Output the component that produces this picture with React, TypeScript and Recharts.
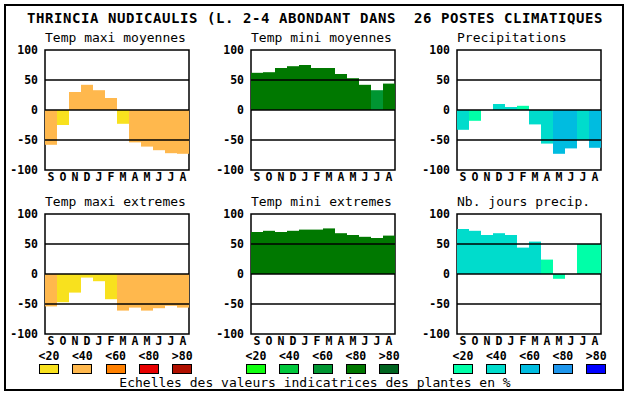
import React from 'react'
import { BarChart, Bar, Cell, XAxis, YAxis, ReferenceLine, ReferenceArea } from 'recharts'

const months = ['S', 'O', 'N', 'D', 'J', 'F', 'M', 'A', 'M', 'J', 'J', 'A']
const yTicks = [-100, -50, 0, 50, 100]
const classLabels = ['<20', '<40', '<60', '<80', '>80']

const warm = ['#F8E11E', '#FFB84D', '#FF8000', '#E80000', '#B01000']
const green = ['#10FF10', '#00C83C', '#009632', '#007800', '#006420']
const aqua = ['#00FFA8', '#00DCCC', '#00BCE0', '#1E96EC', '#0000FF']

const tmaxMoy = [-58, -25, 30, 42, 33, 20, -23, -54, -61, -67, -72, -73]
const tmaxMoyCls = [1, 0, 1, 1, 1, 1, 0, 1, 1, 1, 1, 1]
const tminMoy = [62, 63, 70, 73, 75, 70, 70, 60, 53, 42, 33, 44]
const tminMoyCls = [3, 3, 3, 3, 3, 3, 3, 3, 3, 3, 2, 3]
const precip = [-33, -18, 0, 10, 5, 7, -24, -56, -73, -64, -50, -63]
const precipCls = [1, 0, 1, 1, 1, 0, 1, 1, 2, 2, 1, 2]
const tmaxExt = [-54, -47, -31, -6, -12, -42, -61, -56, -61, -57, -53, -56]
const tmaxExtCls = [1, 0, 0, 0, 0, 0, 1, 1, 1, 1, 1, 1]
const tminExt = [70, 72, 70, 72, 74, 74, 76, 68, 65, 62, 60, 64]
const tminExtCls = [3, 3, 3, 3, 3, 3, 3, 3, 3, 3, 3, 3]
const joursPrecip = [75, 72, 65, 68, 65, 44, 54, 24, -8, 0, 50, 50]
const joursPrecipCls = [1, 1, 1, 1, 1, 1, 1, 0, 0, 0, 0, 0]

const panels = [
  { title: 'Temp maxi moyennes', values: tmaxMoy, cls: tmaxMoyCls, palette: warm },
  { title: 'Temp mini moyennes', values: tminMoy, cls: tminMoyCls, palette: green },
  { title: 'Precipitations', values: precip, cls: precipCls, palette: aqua },
  { title: 'Temp maxi extremes', values: tmaxExt, cls: tmaxExtCls, palette: warm },
  { title: 'Temp mini extremes', values: tminExt, cls: tminExtCls, palette: green },
  { title: 'Nb. jours precip.', values: joursPrecip, cls: joursPrecipCls, palette: aqua },
]

const mono = "'DejaVu Sans Mono', monospace"
const tickStyle = { fontSize: 11.5, fontWeight: 'bold', fill: '#000', fontFamily: mono }

const Panel = ({ p, left, top }) => {
  const data = p.values.map((v, i) => ({ k: i, v }))
  return (
    <div style={{ position: 'absolute', left: left - 40, top: top - 26 }}>
      <div style={{ position: 'absolute', left: 40, top: 6, fontFamily: mono, fontSize: 13, lineHeight: '16px', whiteSpace: 'pre' }}>{p.title}</div>
      <div style={{ position: 'absolute', left: 0, top: 18 }}>
        <BarChart width={186} height={148} data={data} barCategoryGap={0} barGap={0}
          margin={{ top: 8, right: 2, left: 0, bottom: 0 }}>
          <XAxis dataKey='k' interval={0} tickFormatter={(i) => months[i]} axisLine={false} tickLine={false}
            tickSize={0} tickMargin={3} height={20} tick={tickStyle} />
          <YAxis domain={[-100, 100]} ticks={yTicks} axisLine={false} tickLine={false} tickSize={0}
            tickMargin={7} width={40} tick={tickStyle} />
          <Bar dataKey='v' isAnimationActive={false}>
            {data.map((d, i) => <Cell key={i} fill={p.palette[p.cls[i]]} />)}
          </Bar>
          <ReferenceLine y={50} stroke='#000' strokeWidth={1.5} />
          <ReferenceLine y={0} stroke='#000' strokeWidth={1.5} />
          <ReferenceLine y={-50} stroke='#000' strokeWidth={1.5} />
          <ReferenceArea y1={-100} y2={100} fill='none' fillOpacity={0} stroke='#000' strokeWidth={1.5} />
        </BarChart>
      </div>
    </div>
  )
}

const plotLefts = [45, 251, 457]
const plotTops = [50, 214]
const palettes = [warm, green, aqua]

export default function App() {
  return (
    <div style={{ position: 'absolute', left: 0, top: 0, width: 630, height: 394, background: '#fff', overflow: 'hidden' }}>
      <div style={{ position: 'absolute', left: 4, top: 4, width: 620, height: 387, border: '2px solid #000', boxSizing: 'border-box' }} />
      <div style={{ position: 'absolute', left: 27, top: 9, fontFamily: mono, fontWeight: 'bold', fontSize: 14, letterSpacing: 0.57, lineHeight: '18px', whiteSpace: 'pre' }}>
        THRINCIA NUDICAULIS (L. 2-4 ABONDANT DANS  26 POSTES CLIMATIQUES
      </div>
      {panels.map((p, i) => (
        <Panel key={i} p={p} left={plotLefts[i % 3]} top={plotTops[Math.floor(i / 3)]} />
      ))}
      {palettes.map((pal, g) => pal.map((c, j) => (
        <React.Fragment key={g + '-' + j}>
          <div style={{ position: 'absolute', left: 39 + 207 * g + 33.3 * j - 5, top: 350, width: 30, textAlign: 'center', fontFamily: mono, fontWeight: 'bold', fontSize: 11.5, lineHeight: '12px' }}>{classLabels[j]}</div>
          <div style={{ position: 'absolute', left: 39 + 207 * g + 33.3 * j, top: 364, width: 20, height: 10, background: c, border: '1px solid #000', boxSizing: 'border-box' }} />
        </React.Fragment>
      )))}
      <div style={{ position: 'absolute', left: 0, width: 630, top: 375, textAlign: 'center', fontFamily: mono, fontSize: 13, lineHeight: '16px', whiteSpace: 'pre' }}>
        Echelles des valeurs indicatrices des plantes en %
      </div>
    </div>
  )
}
